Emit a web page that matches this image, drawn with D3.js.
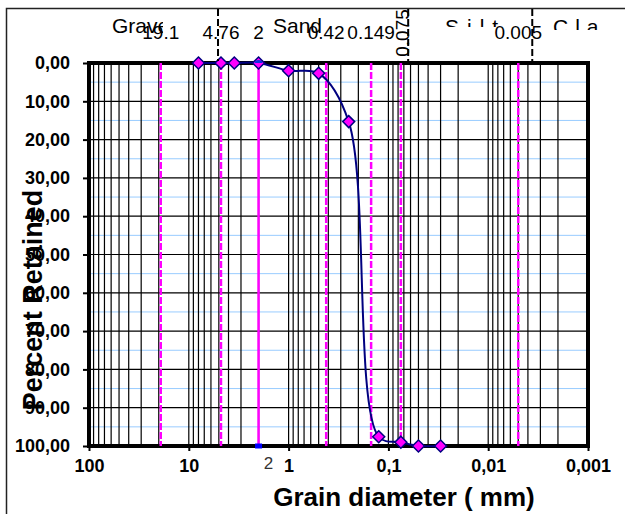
<!DOCTYPE html>
<html>
<head>
<meta charset="utf-8">
<script src="https://cdn.jsdelivr.net/npm/d3@7"></script>
<style>
  body { margin: 0; background: #fff; }
  text { font-family: "Liberation Sans", Arial, sans-serif; }
</style>
</head>
<body>
<div id="chart"></div>
<script>
/*
** Grain size distribution chart
** Percent retained against grain diameter (log scale, reversed)
*/

// Data

// sieve sizes (mm) and percent retained
const diameters = [8, 4.76, 3.5, 2, 1, 0.5, 0.25, 0.125, 0.075, 0.05, 0.03];
const retained = [0, 0, 0, 0, 2.0, 2.7, 15.3, 97.6, 99.0, 100, 100];

// magenta reference lines (mm); only the 2 mm line is solid
const refLines = [19.1, 4.76, 2, 0.42, 0.149, 0.075, 0.005];
const solidRefLines = [2];

// soil classes and their boundaries on the top band (mm)
const soilClasses = ["Gravel", "Sand", "Silt", "Clay"];
const classBoundaries = [4.76, 0.075, 0.005];

// axis ticks
const xTickValues = [100, 10, 1, 0.1, 0.01, 0.001];
const xTickLabels = ["100", "10", "1", "0,1", "0,01", "0,001"];
const yTickValues = [0, 10, 20, 30, 40, 50, 60, 70, 80, 90, 100];

// Layout
let width = 625;
let height = 514;
let plotLeft = 89, plotRight = 588, plotTop = 63, plotBottom = 446;

let magenta = "#ff00ff";
let navy = "#000080";
let lightBlue = "#99ccff";

let svg = d3.select("#chart")
    .append("svg")
    .attr("width", width)
    .attr("height", height);

// main scales
let x = d3.scaleLog().domain([100, 0.001]).range([plotLeft, plotRight]);
let y = d3.scaleLinear().domain([0, 100]).range([plotTop, plotBottom]);

// the top band (class names) sits on its own, slightly wider axis
let xTop = d3.scaleLog().domain([100, 0.001]).range([78.5, 606]);

// outer frame (only left and top edges show)
svg.append("path")
    .attr("d", `M6.5,${height} V8.5 H${width}`)
    .attr("fill", "none")
    .attr("stroke", "#222")
    .attr("stroke-width", 1.5);

// Grid
let grid = svg.append("g").attr("class", "grid");

// light blue minor horizontals
grid.selectAll(".minor-h")
    .data(d3.range(5, 100, 10))
    .enter().append("line")
    .attr("x1", plotLeft).attr("x2", plotRight)
    .attr("y1", d => y(d)).attr("y2", d => y(d))
    .attr("stroke", lightBlue)
    .attr("stroke-width", 1);

// black major horizontals
grid.selectAll(".major-h")
    .data(d3.range(10, 100, 10))
    .enter().append("line")
    .attr("x1", plotLeft).attr("x2", plotRight)
    .attr("y1", d => y(d)).attr("y2", d => y(d))
    .attr("stroke", "#000")
    .attr("stroke-width", 1.2);

// black verticals at every log tick
grid.selectAll(".vert")
    .data(x.ticks())
    .enter().append("line")
    .attr("x1", d => x(d)).attr("x2", d => x(d))
    .attr("y1", plotTop).attr("y2", plotBottom)
    .attr("stroke", "#000")
    .attr("stroke-width", 1.2);

// plot frame
svg.append("rect")
    .attr("x", plotLeft)
    .attr("y", plotTop)
    .attr("width", plotRight - plotLeft)
    .attr("height", plotBottom - plotTop)
    .attr("fill", "none")
    .attr("stroke", "#000")
    .attr("stroke-width", 4);

// Magenta reference lines
svg.selectAll(".ref")
    .data(refLines)
    .enter().append("line")
    .attr("class", "ref")
    .attr("x1", d => x(d)).attr("x2", d => x(d))
    .attr("y1", plotTop).attr("y2", plotBottom)
    .attr("stroke", magenta)
    .attr("stroke-width", 2.5)
    .attr("stroke-dasharray", d => solidRefLines.includes(d) ? null : "7,2");

// little blue end markers of the 2 mm line
solidRefLines.forEach(d => {
    svg.append("rect")
        .attr("x", x(d) - 3.5).attr("y", plotBottom - 2.5)
        .attr("width", 7).attr("height", 5)
        .attr("fill", "#0000ff");
});

// Curve
let points = diameters.map((d, i) => [d, retained[i]]);

// centripetal catmull-rom keeps the overshoot at the foot of the drop small
let line = d3.line()
    .x(d => x(d[0]))
    .y(d => y(d[1]))
    .curve(d3.curveCatmullRom.alpha(0.5));

svg.append("path")
    .datum(points)
    .attr("d", line)
    .attr("fill", "none")
    .attr("stroke", navy)
    .attr("stroke-width", 2);

// diamond markers
svg.selectAll(".marker")
    .data(points)
    .enter().append("path")
    .attr("class", "marker")
    .attr("transform", d => `translate(${x(d[0])},${y(d[1])})`)
    .attr("d", "M0,-6 L6,0 L0,6 L-6,0 Z")
    .attr("fill", magenta)
    .attr("stroke", navy)
    .attr("stroke-width", 1.5);

// blue blob on top of the 2 mm point
solidRefLines.forEach(d => {
    svg.append("path")
        .attr("d", `M${x(d) - 4},${plotTop} a4,3 0 0 1 8,0 Z`)
        .attr("fill", "#1030e0");
});

// Axes
let xAxis = svg.append("g")
    .attr("transform", `translate(0,${plotBottom})`)
    .call(d3.axisBottom(x)
        .tickValues(xTickValues)
        .tickFormat((d, i) => xTickLabels[i])
        .tickSize(5)
        .tickPadding(8));

let yAxis = svg.append("g")
    .attr("transform", `translate(${plotLeft},0)`)
    .call(d3.axisLeft(y)
        .tickValues(yTickValues)
        .tickFormat(d => d3.format(".2f")(d).replace(".", ","))
        .tickSize(6)
        .tickPadding(13));

[xAxis, yAxis].forEach(a => {
    a.select(".domain").remove();
    a.selectAll(".tick line").attr("stroke", "#000").attr("stroke-width", 2);
    a.selectAll(".tick text")
        .attr("fill", "#000")
        .style("font-family", "'Liberation Sans', Arial, sans-serif")
        .style("font-size", "18px")
        .style("font-weight", "bold");
});

// stray "2" label under the solid line
svg.append("text")
    .attr("x", x(solidRefLines[0]) + 10)
    .attr("y", 469)
    .attr("text-anchor", "middle")
    .style("font-size", "17px")
    .attr("fill", "#333")
    .text(solidRefLines[0]);

// Axis titles
svg.append("text")
    .attr("x", 404)
    .attr("y", 506)
    .attr("text-anchor", "middle")
    .style("font-size", "26px")
    .style("font-weight", "bold")
    .text("Grain diameter ( mm)");

svg.append("text")
    .attr("transform", "translate(42,300) rotate(-90)")
    .attr("text-anchor", "middle")
    .style("font-size", "27px")
    .style("font-weight", "bold")
    .text("Percent Retained");

// Top band: class names (partly hidden in the original)
let classLayout = [
    { x: 112, clip: [105, 18, 58, 15], spacing: 0 },
    { x: 273, clip: [268, 18, 62, 15], spacing: 0 },
    { x: 445, clip: [440, 18, 70, 9], spacing: 8 },
    { x: 553, clip: [548, 18, 55, 12], spacing: 7 }
];

let defs = svg.append("defs");
soilClasses.forEach((name, i) => {
    let c = classLayout[i];
    defs.append("clipPath")
        .attr("id", "clip-" + i)
        .append("rect")
        .attr("x", c.clip[0]).attr("y", c.clip[1])
        .attr("width", c.clip[2]).attr("height", c.clip[3]);

    svg.append("text")
        .attr("x", c.x)
        .attr("y", i < 2 ? 33 : 34)
        .attr("clip-path", `url(#clip-${i})`)
        .style("font-size", "21px")
        .style("letter-spacing", c.spacing + "px")
        .text(name);
});

// top numbers for the reference lines
refLines.forEach(d => {
    if (d === 0.075) {
        svg.append("text")
            .attr("transform", `translate(${x(d) + 8},33) rotate(-90)`)
            .attr("text-anchor", "middle")
            .style("font-size", "19px")
            .text(d);
    } else {
        svg.append("text")
            .attr("x", x(d))
            .attr("y", 39)
            .attr("text-anchor", "middle")
            .style("font-size", "19px")
            .text(d);
    }
});

// black dashed class boundaries in the top band
svg.selectAll(".boundary")
    .data(classBoundaries)
    .enter().append("line")
    .attr("x1", d => xTop(d)).attr("x2", d => xTop(d))
    .attr("y1", 9).attr("y2", plotTop - 2)
    .attr("stroke", "#000")
    .attr("stroke-width", 2)
    .attr("stroke-dasharray", "7,3");
</script>
</body>
</html>
